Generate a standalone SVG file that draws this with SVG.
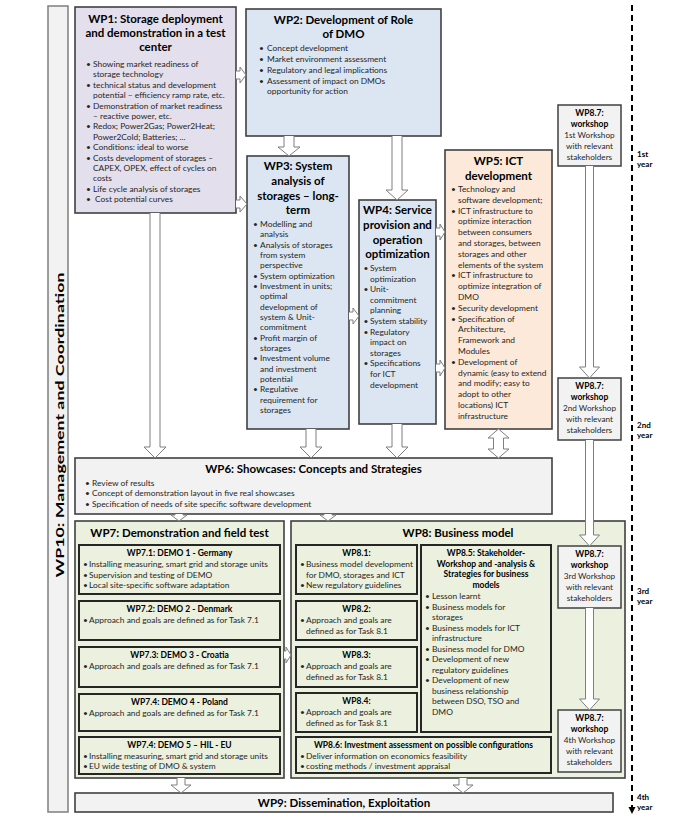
<svg xmlns="http://www.w3.org/2000/svg" width="675" height="820" viewBox="0 0 675 820">
<style>
.box{stroke:#404040;stroke-width:1.6}
.wp1{fill:#E4DFEC}
.blue{fill:#DCE6F2}
.peach{fill:#FDE9D9}
.gray{fill:#F2F2F2}
.green{fill:#EBF1DE}
.inner{fill:#EBF1DE;stroke:#262626;stroke-width:2}
.ws{fill:#F2F2F2;stroke:#404040;stroke-width:1.5}
.side{fill:#F2F2F2;stroke:#7F7F7F;stroke-width:1.5}
.arr{fill:#fff;stroke:#7F7F7F;stroke-width:1}
text{font-family:Lato,"Liberation Sans",sans-serif;fill:#262626}
.h{font-weight:bold;font-size:11.5px;text-anchor:middle;fill:#000}
.s{font-weight:bold;font-size:8.5px;text-anchor:middle;fill:#000}
.b{font-size:8.4px}
.c{text-anchor:middle;font-size:8.2px}
.yr{font-weight:bold;font-size:8px;fill:#000}
</style>

<g id="WP10">
<rect class="side" x="48" y="6" width="20" height="806"/>
<text class="h" font-size="16" textLength="305" lengthAdjust="spacingAndGlyphs" transform="translate(64,425) rotate(-90)">WP10: Management and Coordination</text>
</g>

<g id="WP1">
<rect class="box wp1" x="75" y="7" width="161" height="206"/>
<text class="h" font-size="11" x="155.5" y="23">WP1: Storage deployment</text>
<text class="h" font-size="11" x="155.5" y="37">and demonstration in a test</text>
<text class="h" font-size="11" x="155.5" y="51">center</text>
<g class="b">
<text x="86" y="67">•</text><text x="93" y="67">Showing market readiness of</text>
<text x="93" y="77.4">storage technology</text>
<text x="86" y="87.8">•</text><text x="93" y="87.8">technical status and development</text>
<text x="93" y="98.2">potential – efficiency ramp rate, etc.</text>
<text x="86" y="108.6">•</text><text x="93" y="108.6">Demonstration of market readiness</text>
<text x="93" y="119">– reactive power, etc.</text>
<text x="86" y="129.4">•</text><text x="93" y="129.4">Redox; Power2Gas; Power2Heat;</text>
<text x="93" y="139.8">Power2Cold; Batteries; ...</text>
<text x="86" y="150.2">•</text><text x="93" y="150.2">Conditions: ideal to worse</text>
<text x="86" y="160.6">•</text><text x="93" y="160.6">Costs development of storages –</text>
<text x="93" y="171">CAPEX, OPEX, effect of cycles on</text>
<text x="93" y="181.4">costs</text>
<text x="86" y="191.8">•</text><text x="93" y="191.8">Life cycle analysis of storages</text>
<text x="86" y="202.2">•</text><text x="95" y="202.2">Cost potential curves</text>
</g>
</g>

<g id="WP2">
<rect class="box blue" x="246" y="9" width="195" height="127"/>
<text class="h" font-size="12.5" x="343.5" y="24">WP2: Development of Role</text>
<text class="h" font-size="12.5" x="343.5" y="38">of DMO</text>
<g class="b">
<text x="259" y="50.5">•</text><text x="267" y="50.5">Concept development</text>
<text x="259" y="61.5">•</text><text x="267" y="61.5">Market environment assessment</text>
<text x="259" y="72.5">•</text><text x="267" y="72.5">Regulatory and legal implications</text>
<text x="259" y="83.5">•</text><text x="267" y="83.5">Assessment of impact on DMOs</text>
<text x="267" y="94">opportunity for action</text>
</g>
</g>

<g id="WP3">
<rect class="box blue" x="247" y="156" width="102" height="273"/>
<text class="h" font-size="12.5" x="298" y="170">WP3: System</text>
<text class="h" font-size="12.5" x="298" y="185">analysis of</text>
<text class="h" font-size="12.5" x="298" y="200">storages – long-</text>
<text class="h" font-size="12.5" x="298" y="214">term</text>
<g class="b">
<text x="253" y="227">•</text><text x="260" y="227">Modelling and</text>
<text x="260" y="237.3">analysis</text>
<text x="253" y="247.7">•</text><text x="260" y="247.7">Analysis  of storages</text>
<text x="260" y="258">from system</text>
<text x="260" y="268.3">perspective</text>
<text x="253" y="278.7">•</text><text x="260" y="278.7">System optimization</text>
<text x="253" y="289">•</text><text x="260" y="289">Investment in units;</text>
<text x="260" y="299.3">optimal</text>
<text x="260" y="309.7">development of</text>
<text x="260" y="320">system &amp; Unit-</text>
<text x="260" y="330.3">commitment</text>
<text x="253" y="340.7">•</text><text x="260" y="340.7">Profit margin of</text>
<text x="260" y="351">storages</text>
<text x="253" y="361.3">•</text><text x="260" y="361.3">Investment volume</text>
<text x="260" y="371.7">and investment</text>
<text x="260" y="382">potential</text>
<text x="253" y="392.3">•</text><text x="260" y="392.3">Regulative</text>
<text x="260" y="402.7">requirement for</text>
<text x="260" y="413">storages</text>
</g>
</g>

<g id="WP4">
<rect class="box blue" x="359" y="200" width="77" height="224"/>
<text class="h" font-size="11.8" x="397.5" y="214">WP4: Service</text>
<text class="h" font-size="11.8" x="397.5" y="229">provision and</text>
<text class="h" font-size="11.8" x="397.5" y="244">operation</text>
<text class="h" font-size="11.8" x="397.5" y="258">optimization</text>
<g class="b">
<text x="363.5" y="271">•</text><text x="370" y="271">System</text>
<text x="370" y="281.6">optimization</text>
<text x="363.5" y="292.2">•</text><text x="370" y="292.2">Unit-</text>
<text x="370" y="302.8">commitment</text>
<text x="370" y="313.4">planning</text>
<text x="363.5" y="324">•</text><text x="370" y="324">System stability</text>
<text x="363.5" y="334.6">•</text><text x="370" y="334.6">Regulatory</text>
<text x="370" y="345.2">impact on</text>
<text x="370" y="355.8">storages</text>
<text x="363.5" y="366.4">•</text><text x="370" y="366.4">Specifications</text>
<text x="370" y="377">for ICT</text>
<text x="370" y="387.6">development</text>
</g>
</g>

<g id="WP5">
<rect class="box peach" x="445" y="150" width="107" height="279"/>
<text class="h" font-size="14" x="498.5" y="165">WP5: ICT</text>
<text class="h" font-size="14" x="498.5" y="180">development</text>
<g class="b">
<text x="451" y="192">•</text><text x="458" y="192">Technology and</text>
<text x="458" y="202.8">software development;</text>
<text x="451" y="213.6">•</text><text x="458" y="213.6">ICT infrastructure to</text>
<text x="458" y="224.4">optimize interaction</text>
<text x="458" y="235.2">between consumers</text>
<text x="458" y="246">and storages, between</text>
<text x="458" y="256.8">storages and other</text>
<text x="458" y="267.6">elements of the system</text>
<text x="451" y="278.4">•</text><text x="458" y="278.4">ICT infrastructure to</text>
<text x="458" y="289.2">optimize integration of</text>
<text x="458" y="300">DMO</text>
<text x="451" y="310.8">•</text><text x="458" y="310.8">Security development</text>
<text x="451" y="321.6">•</text><text x="458" y="321.6">Specification of</text>
<text x="458" y="332.4">Architecture,</text>
<text x="458" y="343.2">Framework and</text>
<text x="458" y="354">Modules</text>
<text x="451" y="364.8">•</text><text x="458" y="364.8">Development of</text>
<text x="458" y="375.6">dynamic (easy to extend</text>
<text x="458" y="386.4">and modify; easy to</text>
<text x="458" y="397.2">adopt to other</text>
<text x="458" y="408">locations) ICT</text>
<text x="458" y="418.8">infrastructure</text>
</g>
</g>

<g id="WP8_7_1">
<rect class="ws" x="558" y="105" width="63" height="61"/>
<text class="s" x="589.5" y="116">WP8.7:</text>
<text class="s" x="589.5" y="127">workshop</text>
<text class="c" x="589.5" y="138">1st Workshop</text>
<text class="c" x="589.5" y="149">with relevant</text>
<text class="c" x="589.5" y="160">stakeholders</text>
</g>

<g id="WP8_7_2">
<rect class="ws" x="558" y="378" width="63" height="62"/>
<text class="s" x="589.5" y="389">WP8.7:</text>
<text class="s" x="589.5" y="400">workshop</text>
<text class="c" x="589.5" y="411">2nd Workshop</text>
<text class="c" x="589.5" y="422">with relevant</text>
<text class="c" x="589.5" y="433">stakeholders</text>
</g>

<g id="WP6">
<rect class="box gray" x="75" y="458" width="477" height="56"/>
<text class="h" font-size="10.5" x="313.5" y="472.5">WP6: Showcases: Concepts and Strategies</text>
<g class="b">
<text x="85" y="485.5">•</text><text x="92" y="485.5">Review of results</text>
<text x="85" y="496">•</text><text x="92" y="496">Concept of demonstration layout in five real showcases</text>
<text x="85" y="506.5">•</text><text x="92" y="506.5">Specification of needs of site specific software development</text>
</g>
</g>

<g id="WP7">
<rect class="box green" x="75" y="521" width="209" height="257"/>
<text class="h" font-size="12" x="179.5" y="537">WP7: Demonstration and field test</text>
</g>
<g id="WP7_1">
<rect class="inner" x="79" y="545" width="201" height="49"/>
<text class="s" x="179.5" y="556">WP7.1: DEMO 1 - Germany</text>
<g class="b">
<text x="83" y="567">•</text><text x="89" y="567">Installing measuring, smart grid and storage units</text>
<text x="83" y="577.5">•</text><text x="89" y="577.5">Supervision and testing of DEMO</text>
<text x="83" y="588">•</text><text x="89" y="588">Local site-specific software adaptation</text>
</g>
</g>
<g id="WP7_2">
<rect class="inner" x="79" y="601" width="201" height="39"/>
<text class="s" x="179.5" y="612">WP7.2: DEMO 2 - Denmark</text>
<text class="b" x="83" y="623">•</text><text class="b" x="89" y="623">Approach and goals are defined as for Task 7.1</text>
</g>
<g id="WP7_3">
<rect class="inner" x="79" y="647" width="201" height="40"/>
<text class="s" x="179.5" y="658">WP7.3: DEMO 3 - Croatia</text>
<text class="b" x="83" y="669">•</text><text class="b" x="89" y="669">Approach and goals are defined as for Task 7.1</text>
</g>
<g id="WP7_4">
<rect class="inner" x="79" y="694" width="201" height="37"/>
<text class="s" x="179.5" y="705">WP7.4: DEMO 4 - Poland</text>
<text class="b" x="83" y="716">•</text><text class="b" x="89" y="716">Approach and goals are defined as for Task 7.1</text>
</g>
<g id="WP7_5">
<rect class="inner" x="79" y="737" width="201" height="37"/>
<text class="s" x="179.5" y="748">WP7.4: DEMO 5 – HIL - EU</text>
<g class="b">
<text x="83" y="758.5">•</text><text x="89" y="758.5">Installing measuring, smart grid and storage units</text>
<text x="83" y="769">•</text><text x="89" y="769">EU wide testing of DMO &amp; system</text>
</g>
</g>

<g id="WP8">
<rect class="box green" x="291" y="521" width="334" height="257"/>
<text class="h" font-size="12.5" x="458" y="537">WP8: Business model</text>
</g>
<g id="WP8_1">
<rect class="inner" x="296" y="545" width="121" height="49"/>
<text class="s" x="356.5" y="556">WP8.1:</text>
<g class="b">
<text x="300" y="567">•</text><text x="306" y="567">Business model development</text>
<text x="306" y="577.5">for DMO, storages and ICT</text>
<text x="300" y="588">•</text><text x="306" y="588">New regulatory guidelines</text>
</g>
</g>
<g id="WP8_2">
<rect class="inner" x="296" y="601" width="121" height="39"/>
<text class="s" x="356.5" y="612">WP8.2:</text>
<g class="b">
<text x="300" y="623">•</text><text x="306" y="623">Approach and goals are</text>
<text x="306" y="633.5">defined as for Task 8.1</text>
</g>
</g>
<g id="WP8_3">
<rect class="inner" x="296" y="647" width="121" height="40"/>
<text class="s" x="356.5" y="658">WP8.3:</text>
<g class="b">
<text x="300" y="669">•</text><text x="306" y="669">Approach and goals are</text>
<text x="306" y="679.5">defined as for Task 8.1</text>
</g>
</g>
<g id="WP8_4">
<rect class="inner" x="296" y="693" width="121" height="39"/>
<text class="s" x="356.5" y="704">WP8.4:</text>
<g class="b">
<text x="300" y="715">•</text><text x="306" y="715">Approach and goals are</text>
<text x="306" y="725.5">defined as for Task 8.1</text>
</g>
</g>
<g id="WP8_5">
<rect class="inner" x="421" y="545" width="130" height="187"/>
<text class="s" x="486" y="556">WP8.5: Stakeholder-</text>
<text class="s" x="486" y="566.5">Workshop and -analysis &amp;</text>
<text class="s" x="486" y="577">Strategies for business</text>
<text class="s" x="486" y="587.5">models</text>
<g class="b">
<text x="425" y="599">•</text><text x="432" y="599">Lesson learnt</text>
<text x="425" y="609.5">•</text><text x="432" y="609.5">Business models for</text>
<text x="432" y="620">storages</text>
<text x="425" y="630.5">•</text><text x="432" y="630.5">Business models for ICT</text>
<text x="432" y="641">infrastructure</text>
<text x="425" y="651.5">•</text><text x="432" y="651.5">Business model for DMO</text>
<text x="425" y="662">•</text><text x="432" y="662">Development of new</text>
<text x="432" y="672.5">regulatory guidelines</text>
<text x="425" y="683">•</text><text x="432" y="683">Development of new</text>
<text x="432" y="693.5">business relationship</text>
<text x="432" y="704">between DSO, TSO and</text>
<text x="432" y="714.5">DMO</text>
</g>
</g>
<g id="WP8_6">
<rect class="inner" x="296" y="737" width="255" height="36"/>
<text class="s" x="423.5" y="748">WP8.6: Investment assessment on possible configurations</text>
<g class="b">
<text x="300" y="758.5">•</text><text x="306" y="758.5">Deliver information on economics feasibility</text>
<text x="300" y="769">•</text><text x="306" y="769">costing methods / investment appraisal</text>
</g>
</g>
<g id="WP8_7_3">
<rect class="ws" x="558" y="546" width="63" height="62"/>
<text class="s" x="589.5" y="557">WP8.7:</text>
<text class="s" x="589.5" y="568">workshop</text>
<text class="c" x="589.5" y="579">3rd Workshop</text>
<text class="c" x="589.5" y="590">with relevant</text>
<text class="c" x="589.5" y="601">stakeholders</text>
</g>
<g id="WP8_7_4">
<rect class="ws" x="558" y="710" width="63" height="62"/>
<text class="s" x="589.5" y="721">WP8.7:</text>
<text class="s" x="589.5" y="732">workshop</text>
<text class="c" x="589.5" y="743">4th Workshop</text>
<text class="c" x="589.5" y="754">with relevant</text>
<text class="c" x="589.5" y="765">stakeholders</text>
</g>

<g id="WP9">
<rect class="box gray" x="75" y="793" width="538" height="19"/>
<text class="h" font-size="12" x="344" y="806.5">WP9: Dissemination, Exploitation</text>
</g>

<g id="timeline">
<line x1="632" y1="5" x2="632" y2="808" stroke="#000" stroke-width="2" stroke-dasharray="6 4"/>
<path d="M628.5,807 L635.5,807 L632,814 Z" fill="#000"/>
<text class="yr" x="637" y="157">1st</text><text class="yr" x="637" y="167">year</text>
<text class="yr" x="637" y="428">2nd</text><text class="yr" x="637" y="438">year</text>
<text class="yr" x="637" y="594">3rd</text><text class="yr" x="637" y="604">year</text>
<text class="yr" x="637" y="800">4th</text><text class="yr" x="637" y="810">year</text>
</g>

<g id="connectors" class="arr">
<path d="M236,71 L240,71 L240,67 L246,75 L240,83 L240,79 L236,79"/>
<path d="M236,200 L240,200 L240,196 L247,204 L240,212 L240,208 L236,208"/>
<path d="M284,136 L284,147 L278,147 L289,156 L300,147 L294,147 L294,136"/>
<path d="M392,136 L392,190 L386,190 L397,200 L408,190 L402,190 L402,136"/>
<path d="M349,312 L353,312 L353,308 L359,316 L353,324 L353,320 L349,320"/>
<path d="M436,228 L440,228 L440,224 L445,232 L440,240 L440,236 L436,236"/>
<path d="M436,364 L440,364 L440,360 L445,368 L440,376 L440,372 L436,372"/>
<path d="M150,213 L150,447 L144,447 L155,458 L166,447 L160,447 L160,213"/>
<path d="M306,429 L306,447 L300,447 L311,458 L322,447 L316,447 L316,429"/>
<path d="M392,424 L392,447 L386,447 L397,458 L408,447 L402,447 L402,424"/>
<path d="M498.5,429 L509,438 L503.5,438 L503.5,449 L509,449 L498.5,458 L488,449 L493.5,449 L493.5,438 L488,438 Z"/>
<path d="M175,514 L175,515 L171,515 L179,521 L187,515 L183,515 L183,514"/>
<path d="M324,514 L324,515 L320,515 L328,521 L336,515 L332,515 L332,514"/>
<path d="M284,651 L286,651 L286,647 L291,655 L286,663 L286,659 L284,659"/>
<path d="M177,778 L177,785 L171,785 L181,793 L191,785 L185,785 L185,778"/>
<path d="M459,778 L459,785 L453,785 L463,793 L473,785 L467,785 L467,778"/>
<path d="M585.5,166 L585.5,367 L579.5,367 L589.5,378 L599.5,367 L593.5,367 L593.5,166"/>
<path d="M585.5,440 L585.5,535 L579.5,535 L589.5,546 L599.5,535 L593.5,535 L593.5,440"/>
<path d="M585.5,608 L585.5,699 L579.5,699 L589.5,710 L599.5,699 L593.5,699 L593.5,608"/>
</g>
</svg>
